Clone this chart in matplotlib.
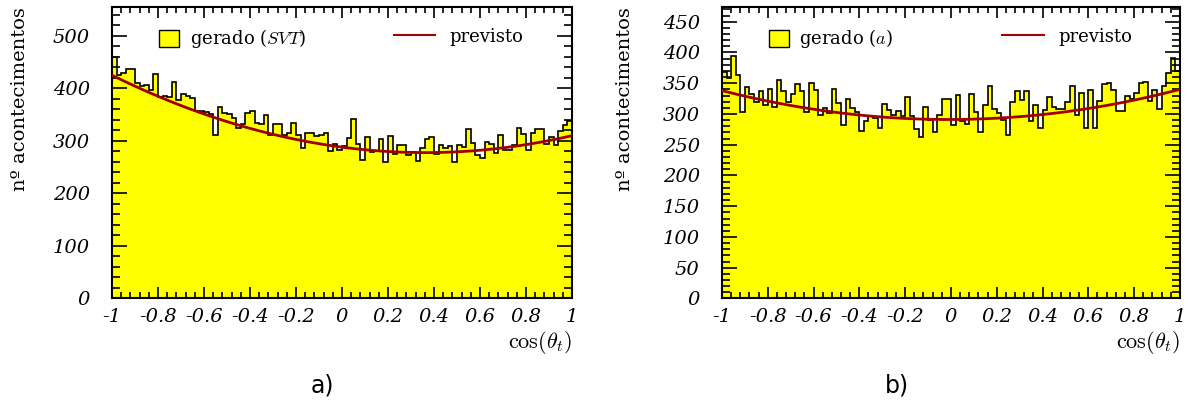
"""Distribuicao de cos(theta_t): eventos gerados vs previsto, SVT (a) e (b)"""
import numpy as np
import matplotlib.pyplot as plt
from matplotlib.patches import Patch
from matplotlib.lines import Line2D
from matplotlib.ticker import MultipleLocator

plt.rcParams['mathtext.fontset'] = 'cm'
plt.rcParams['axes.unicode_minus'] = False

# 100 bins em cos(theta_t), de -1 a 1
bin_edges = np.linspace(-1, 1, 101)

gerado_svt = [459, 425, 430, 437, 437, 410, 404, 406, 397, 427,
              384, 386, 384, 412, 378, 390, 385, 381, 357, 357,
              355, 352, 311, 364, 354, 352, 343, 324, 332, 354,
              357, 335, 332, 349, 311, 333, 333, 311, 316, 335,
              311, 286, 316, 316, 310, 311, 316, 281, 295, 282,
              290, 305, 342, 294, 263, 308, 278, 280, 303, 260,
              309, 275, 293, 293, 273, 278, 261, 287, 303, 307,
              275, 293, 286, 291, 260, 293, 289, 322, 296, 274,
              267, 298, 295, 277, 312, 282, 282, 293, 325, 314,
              282, 316, 322, 322, 295, 308, 293, 319, 330, 338]

gerado_a = [368, 358, 395, 364, 303, 344, 333, 320, 337, 315,
            340, 312, 356, 338, 320, 333, 349, 337, 303, 350,
            339, 299, 310, 302, 340, 318, 282, 324, 309, 304,
            273, 288, 297, 293, 278, 316, 306, 299, 305, 296,
            327, 296, 275, 262, 312, 291, 270, 299, 325, 325,
            282, 331, 288, 283, 332, 304, 271, 315, 346, 308,
            302, 290, 266, 319, 337, 322, 337, 288, 315, 278,
            306, 327, 312, 308, 308, 320, 345, 299, 334, 277,
            339, 278, 321, 349, 350, 339, 305, 305, 330, 324,
            334, 350, 352, 321, 339, 308, 345, 367, 391, 370]

# previsto: c0 + c1*x + c2*x^2
previsto_svt = [288.1, -57.5, 79.4]
previsto_a = [291.0, 1.0, 48.0]

xtick_vals = [-1, -0.8, -0.6, -0.4, -0.2, 0, 0.2, 0.4, 0.6, 0.8, 1]
xtick_labels = ["-1", "-0.8", "-0.6", "-0.4", "-0.2", "0",
                "0.2", "0.4", "0.6", "0.8", "1"]

tickfont = dict(family='DejaVu Serif', style='italic', size=14)
textfont = dict(family='DejaVu Serif', size=13)

fig = plt.figure(figsize=(11.88, 4.05), dpi=100)

panels = [
    (gerado_svt, previsto_svt, r'gerado ($\mathit{SVT}$)', 555, 100, 20,
     [0.0943, 0.263, 0.3872, 0.7198], -0.181, 'a)', 322),
    (gerado_a, previsto_a, 'gerado ($a$)', 474, 50, 10,
     [0.6077, 0.263, 0.3855, 0.7198], -0.192, 'b)', 897),
]

for vals, coef, lab, ymax, ymaj, ymin_, rect, ylab_x, tag, tag_x in panels:
    ax = fig.add_axes(rect)
    ax.stairs(vals, bin_edges, fill=True, color='#ffff00', zorder=1)
    ax.stairs(vals, bin_edges, color='black', lw=1.2, zorder=2)
    xs = np.linspace(-1, 1, 300)
    ax.plot(xs, coef[0] + coef[1] * xs + coef[2] * xs**2,
            color='#a00000', lw=2, zorder=3)

    ax.set_xlim(-1, 1)
    ax.set_ylim(0, ymax)
    ax.set_xticks(xtick_vals)
    ax.set_xticklabels(xtick_labels, fontdict=tickfont)
    ax.xaxis.set_minor_locator(MultipleLocator(0.04))
    ax.yaxis.set_major_locator(MultipleLocator(ymaj))
    ax.yaxis.set_minor_locator(MultipleLocator(ymin_))
    ax.set_yticks(np.arange(0, ymax, ymaj))
    ax.set_yticklabels([str(v) for v in np.arange(0, ymax, ymaj)],
                       fontdict=tickfont)
    ax.tick_params(which='both', direction='in', top=True, right=True,
                   width=1.2)
    ax.tick_params(axis='x', which='major', length=8, pad=7)
    ax.tick_params(axis='x', which='minor', length=4.5)
    ax.tick_params(axis='y', which='major', length=11, pad=16)
    ax.tick_params(axis='y', which='minor', length=5.5)
    for s in ax.spines.values():
        s.set_linewidth(1.5)

    ax.set_xlabel(r'$\cos(\theta_t)$', loc='right', fontsize=16, labelpad=2)
    ax.set_ylabel('n\u00ba acontecimentos', loc='top', fontdict=textfont,
                  fontsize=14)
    ax.yaxis.set_label_coords(ylab_x, 1.0)

    leg1 = ax.legend(handles=[Patch(facecolor='#ffff00', edgecolor='black', lw=1)],
                     labels=[lab], loc='upper left', bbox_to_anchor=(0.102, 0.93),
                     frameon=False, borderpad=0, borderaxespad=0,
                     handlelength=1.1, handleheight=1.1, handletextpad=0.6,
                     prop=textfont)
    ax.add_artist(leg1)
    ax.legend(handles=[Line2D([], [], color='#a00000', lw=1.5)],
              labels=['previsto'], loc='upper left', bbox_to_anchor=(0.612, 0.93),
              frameon=False, borderpad=0, borderaxespad=0,
              handlelength=2.3, handleheight=1.1, handletextpad=0.8,
              prop=textfont)

    fig.text(tag_x / 1188, 1 - 385 / 405, tag, ha='center', va='center',
             family='DejaVu Sans', fontsize=17)

plt.savefig('out.png', dpi=100)
